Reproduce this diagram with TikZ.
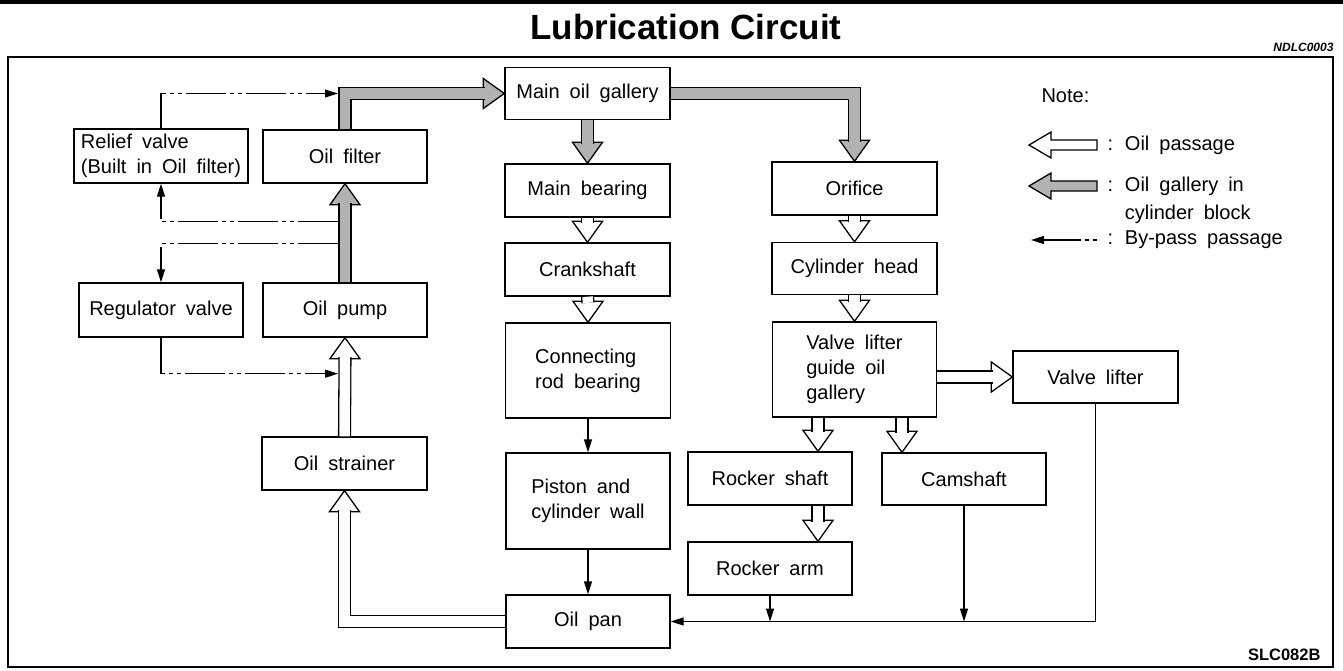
\documentclass[tikz,border=0pt]{standalone}
\usepackage{fontspec}
\setmainfont{Liberation Sans}[WordSpace=1.8]
\newfontfamily\titlefont{Liberation Sans}
\usetikzlibrary{arrows.meta,calc}

\tikzset{
  box/.style={draw,line width=1.4pt,minimum width=164pt,minimum height=53pt,inner sep=2pt,
    font=\fontsize{20}{25}\selectfont},
  tallbox/.style={box,minimum height=95pt,align=left},
  pipew/.style={line width=1.3pt,double=white,double distance=10.5pt},
  pipeg/.style={line width=1.3pt,double=gray!60,double distance=10.5pt},
  bypass/.style={line width=1.3pt,dash pattern=on 40pt off 4pt on 4pt off 4pt on 4pt off 4pt,
    -{Triangle[length=13pt,width=8pt]}},
  flow/.style={line width=1.3pt,-{Triangle[length=13pt,width=8pt]}},
  legtext/.style={anchor=west,align=left,font=\fontsize{20}{28}\selectfont},
  pics/hdown/.style={code={\draw[line width=1.3pt,fill=#1] (0,0) -- (-15,-21) -- (15,-21) -- cycle;}},
  pics/hup/.style={code={\draw[line width=1.3pt,fill=#1] (0,0) -- (-15,21) -- (15,21) -- cycle;}},
  pics/hright/.style={code={\draw[line width=1.3pt,fill=#1] (0,0) -- (-21,-15) -- (-21,15) -- cycle;}}
}

\begin{document}
\begin{tikzpicture}[x=1pt,y=-1pt]
  \useasboundingbox (0,0) rectangle (1343,671);
  % frame and heading
  \draw[line width=4pt] (0,2) -- (1343,2);
  \draw[line width=1.5pt] (8,57) rectangle (1333,667);
  \node[font=\titlefont\bfseries\fontsize{35}{40}\selectfont] (title) at (686,27) {Lubrication Circuit};
  \node[anchor=east,font=\bfseries\itshape\fontsize{12}{14}\selectfont] (code) at (1337,47) {NDLC0003};
  \node[anchor=east,font=\bfseries\fontsize{16.5}{20}\selectfont] (fig) at (1324,655) {SLC082B};

  % blocks
  \node[box,minimum width=174pt,minimum height=54pt,align=left] (relief) at (161,156) {Relief valve\\(Built in Oil filter)};
  \node[box] (ofilter) at (345,156.5) {Oil filter};
  \node[box,minimum width=165pt,minimum height=52pt] (mog) at (587.5,93.5) {Main oil gallery};
  \node[box,minimum width=165pt] (mbear) at (587.5,190.5) {Main bearing};
  \node[box,minimum width=165pt] (orifice) at (854.5,188.5) {Orifice};
  \node[box,minimum width=165pt] (crank) at (587.5,269.5) {Crankshaft};
  \node[box,minimum width=165pt,minimum height=52pt] (cylhead) at (854.5,268.5) {Cylinder head};
  \node[box,minimum height=54pt] (regv) at (161,310) {Regulator valve};
  \node[box,minimum height=54pt] (opump) at (345,310) {Oil pump};
  \node[tallbox,minimum width=165pt] (conrod) at (588,370.5) {Connecting\\rod bearing};
  \node[tallbox] (vlg) at (854.5,369.5) {Valve lifter\\guide oil\\gallery};
  \node[box,minimum width=165pt,minimum height=52pt] (vlifter) at (1095.5,377) {Valve lifter};
  \node[box,minimum width=165pt] (ostrainer) at (344.5,463.5) {Oil strainer};
  \node[tallbox,minimum height=96pt] (piston) at (588,501) {Piston and\\cylinder wall};
  \node[box] (rshaft) at (770,478.5) {Rocker shaft};
  \node[box,minimum height=52pt] (camshaft) at (964,479) {Camshaft};
  \node[box] (rarm) at (770,568.5) {Rocker arm};
  \node[box] (oilpan) at (588,621.5) {Oil pan};

  % oil gallery in cylinder block
  \pic at (ofilter.south) {hup=gray!60};
  \draw[pipeg] (opump.north) -- ($(ofilter.south)+(0,19.5)$);
  \pic at (mog.west) {hright=gray!60};
  \draw[pipeg] (ofilter.north) |- ($(mog.west)+(-19.5,0)$);
  \pic at (mbear.north) {hdown=gray!60};
  \draw[pipeg] (mog.south) -- ($(mbear.north)+(0,-19.5)$);
  \pic at (orifice.north) {hdown=gray!60};
  \draw[pipeg] (mog.east) -| ($(orifice.north)+(0,-19.5)$);

  % oil passages
  \pic at (opump.south) {hup=white};
  \draw[pipew] (ostrainer.north) -- ($(opump.south)+(0,19.5)$);
  \pic at (ostrainer.south) {hup=white};
  \draw[pipew] (oilpan.west) -| ($(ostrainer.south)+(0,19.5)$);
  \pic at (crank.north) {hdown=white};
  \draw[pipew] (mbear.south) -- ($(crank.north)+(0,-19.5)$);
  \pic at (conrod.north) {hdown=white};
  \draw[pipew] (crank.south) -- ($(conrod.north)+(0,-19.5)$);
  \pic at (cylhead.north) {hdown=white};
  \draw[pipew] (orifice.south) -- ($(cylhead.north)+(0,-19.5)$);
  \pic at (vlg.north) {hdown=white};
  \draw[pipew] (cylhead.south) -- ($(vlg.north)+(0,-19.5)$);
  \pic at (vlifter.west) {hright=white};
  \draw[pipew] (vlg.east |- vlifter.west) -- ($(vlifter.west)+(-19.5,0)$);
  \coordinate (rsx) at ($(rshaft.north)+(48,0)$);
  \coordinate (csx) at ($(camshaft.north)+(-62,0)$);
  \coordinate (rax) at ($(rarm.north)+(48,0)$);
  \pic at (rsx) {hdown=white};
  \draw[pipew] (rsx |- vlg.south) -- ($(rsx)+(0,-19.5)$);
  \pic at (csx) {hdown=white};
  \draw[pipew] (csx |- vlg.south) -- ($(csx)+(0,-19.5)$);
  \pic at (rax) {hdown=white};
  \draw[pipew] (rax |- rshaft.south) -- ($(rax)+(0,-19.5)$);

  % by-pass passages
  \coordinate (gtip) at ($(ofilter.north |- mog.west)+(-7,0)$);
  \coordinate (b1) at ($(ofilter.south)+(-7,38)$);
  \coordinate (b2) at ($(ofilter.south)+(-7,60)$);
  \coordinate (ptip) at ($(opump.south)+(-7,36)$);
  \draw[bypass] (relief.north) |- (gtip);
  \draw[bypass] (b1) -| (relief.south);
  \draw[bypass] (b2) -| (regv.north);
  \draw[bypass] (regv.south) |- (ptip);

  % return to oil pan
  \draw[flow] (conrod.south) -- (piston.north);
  \draw[flow] (piston.south) -- (oilpan.north);
  \draw[flow] (vlifter.south) |- (oilpan.east);
  \draw[flow] (rarm.south) -- (rarm.south |- oilpan.east);
  \draw[flow] (camshaft.south) -- (camshaft.south |- oilpan.east);

  % note
  \node[legtext] (note) at (1038,96) {Note:};
  \draw[line width=1.3pt,fill=white] (1029,145) -- (1051,132) -- (1051,140) -- (1097,140)
    -- (1097,150) -- (1051,150) -- (1051,158) -- cycle;
  \node[legtext] (lpass) at (1104,145) {: Oil passage};
  \draw[line width=1.3pt,fill=gray!60] (1029,186) -- (1051,173) -- (1051,181) -- (1097,181)
    -- (1097,191) -- (1051,191) -- (1051,199) -- cycle;
  \node[legtext,anchor=north west] (lgal) at (1104,173) {: Oil gallery in\\\phantom{: }cylinder block};
  \draw[line width=1.3pt,dash pattern=on 4pt off 4pt on 4pt off 4pt on 60pt,
    -{Triangle[length=13pt,width=8pt]}] (1097,240) -- (1031,240);
  \node[legtext] (lbyp) at (1104,240) {: By-pass passage};
\end{tikzpicture}
\end{document}
